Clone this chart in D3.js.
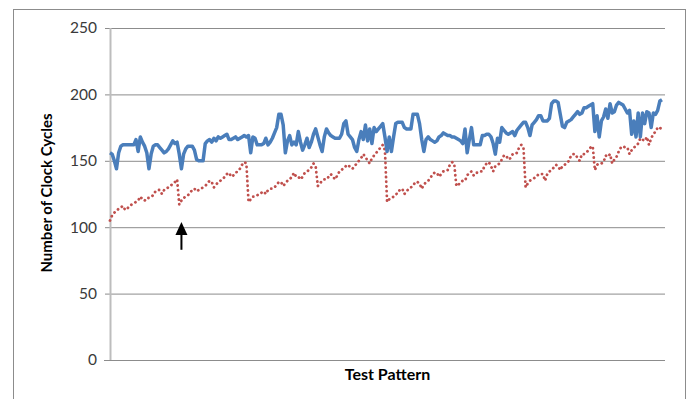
<!DOCTYPE html>
<html>
<head>
<meta charset="utf-8">
<script src="https://cdn.jsdelivr.net/npm/d3@7"></script>
<style>
  body { margin: 0; background: #fff; }
  text { font-family: Lato, "Open Sans", sans-serif; }
</style>
</head>
<body>
<div id="chart"></div>
<script>
// clock cycles per test pattern
const upperCycles = [
  156,155,150,144,156,161,162,162,162,162,
  162,162,166,157,168,164,161,156,144,155,
  161,162,162,160,158,156,157,159,162,165,
  163,164,155,144,155,159,161,161,161,158,
  151,150,150,150,163,165,166,164,167,165,
  168,167,168,169,170,166,166,167,168,166,
  167,168,169,168,169,156,168,167,162,162,
  162,163,167,162,164,167,171,175,185,185,
  177,156,165,169,162,164,162,172,164,158,
  162,167,160,164,170,174,168,162,157,168,
  174,171,169,168,167,167,167,170,178,180,
  170,168,166,160,157,166,172,166,177,165,
  174,163,175,172,174,176,178,168,157,168,
  157,168,178,179,179,179,175,174,174,174,
  185,185,185,178,166,157,166,168,166,165,
  164,165,168,169,171,170,169,169,168,168,
  167,166,165,163,174,156,166,175,162,162,
  162,162,169,169,170,170,168,163,155,167,
  164,175,173,171,170,171,172,169,173,175,
  177,179,179,175,169,177,179,181,184,184,
  180,180,180,182,193,195,195,194,185,176,
  175,179,180,181,183,185,187,185,186,190,
  190,191,192,193,172,184,168,180,183,189,
  182,193,186,187,192,194,193,192,189,186,
  188,170,180,168,186,168,186,178,187,186,
  175,186,185,188,195,196
];
const lowerCycles = [
  105,109,111,112,114,115,116,113,114,116,
  117,118,119,120,123,121,120,122,122,123,
  124,127,128,128,125,128,129,130,131,133,
  134,136,117,120,122,123,124,126,128,129,
  127,128,129,130,131,133,135,134,130,132,
  134,135,136,138,140,141,138,139,141,142,
  144,147,149,148,119,121,123,123,124,125,
  126,127,125,128,129,129,130,132,134,134,
  131,133,135,136,138,141,138,138,136,138,
  141,142,143,145,148,146,131,133,135,136,
  136,138,140,138,136,139,142,143,145,146,
  147,145,144,146,148,150,152,155,153,150,
  148,152,154,156,158,160,162,158,119,121,
  122,123,124,127,128,129,125,127,129,130,
  131,134,134,133,129,132,134,135,137,140,
  141,141,138,140,142,142,143,147,149,148,
  131,132,134,135,135,139,141,142,139,141,
  141,142,142,146,148,149,146,142,146,147,
  148,151,154,154,151,152,155,155,156,160,
  162,160,130,133,135,136,137,138,140,140,
  140,135,140,142,143,145,147,146,143,146,
  147,148,150,154,155,155,152,150,155,155,
  156,158,160,161,143,147,148,148,149,154,
  153,155,148,151,153,157,160,161,160,160,
  155,158,160,161,163,167,166,165,168,162,
  167,170,172,175,174,176
];
const patterns = upperCycles.map((d, i) => i);
const yTicks = [0, 50, 100, 150, 200, 250];
const xTitle = 'Test Pattern';
const yTitle = 'Number of Clock Cycles';
// annotation arrow: pattern index, from / to value
const arrowPattern = 33;
const arrowFrom = 83;
const arrowTo = 104;

const width = 688;
const height = 399;
const margin = { top: 28, right: 23, bottom: 39, left: 110 };
const plotW = width - margin.left - margin.right;
const plotH = height - margin.top - margin.bottom;

const svg = d3.select('#chart')
  .append('svg')
  .attr('width', width)
  .attr('height', height);

// outer chart border
svg.append('rect')
  .attr('x', 13.5)
  .attr('y', 9.5)
  .attr('width', 672)
  .attr('height', 400)
  .attr('fill', 'none')
  .attr('stroke', '#8c8c8c');

const g = svg.append('g')
  .attr('transform', `translate(${margin.left}, ${margin.top})`);

const x = d3.scaleLinear()
  .domain([0, patterns.length - 1])
  .range([0, plotW - 3]);

const y = d3.scaleLinear()
  .domain([0, 250])
  .range([plotH, 0]);

// gridlines + y axis
const yAxis = g.append('g')
  .call(d3.axisLeft(y).tickValues(yTicks).tickSize(-plotW).tickSizeOuter(0).tickPadding(13));
yAxis.select('.domain').remove();
yAxis.selectAll('.tick line')
  .attr('x1', -5)
  .attr('stroke', '#8c8c8c');
yAxis.selectAll('.tick text')
  .attr('fill', '#3a3a3a')
  .style('font-size', '15.5px')
  .style('font-family', 'Lato, sans-serif');

// vertical axis line
g.append('line')
  .attr('x1', 0.5).attr('x2', 0.5)
  .attr('y1', 0).attr('y2', plotH)
  .attr('stroke', '#bdbdbd')
  .attr('stroke-width', 2);

// x axis line
g.append('line')
  .attr('x1', -6).attr('x2', plotW)
  .attr('y1', plotH + 0.5).attr('y2', plotH + 0.5)
  .attr('stroke', '#8c8c8c');

const line = d3.line()
  .x((d, i) => x(patterns[i]))
  .y(d => y(d));

g.append('path')
  .datum(lowerCycles)
  .attr('d', line)
  .attr('fill', 'none')
  .attr('stroke', '#c0504d')
  .attr('stroke-width', 2.8)
  .attr('stroke-linecap', 'round')
  .attr('stroke-dasharray', '0.1,4.6');

g.append('path')
  .datum(upperCycles)
  .attr('d', line)
  .attr('fill', 'none')
  .attr('stroke', '#4a7ebb')
  .attr('stroke-width', 3.5)
  .attr('stroke-linejoin', 'round');

// arrow annotation
const ax = x(arrowPattern);
const tip = y(arrowTo);
g.append('line')
  .attr('x1', ax).attr('x2', ax)
  .attr('y1', y(arrowFrom)).attr('y2', tip + 10)
  .attr('stroke', '#000')
  .attr('stroke-width', 2);
g.append('path')
  .attr('d', `M${ax},${tip} L${ax - 6},${tip + 13} L${ax + 6},${tip + 13} Z`)
  .attr('fill', '#000');

// titles
svg.append('text')
  .attr('x', margin.left + plotW / 2)
  .attr('y', 380)
  .attr('text-anchor', 'middle')
  .style('font-size', '16px')
  .style('font-weight', 'bold')
  .text(xTitle);

svg.append('text')
  .attr('transform', `translate(52, ${margin.top + plotH / 2 - 1}) rotate(-90)`)
  .attr('text-anchor', 'middle')
  .style('font-size', '15px')
  .style('font-weight', 'bold')
  .text(yTitle);
</script>
</body>
</html>
